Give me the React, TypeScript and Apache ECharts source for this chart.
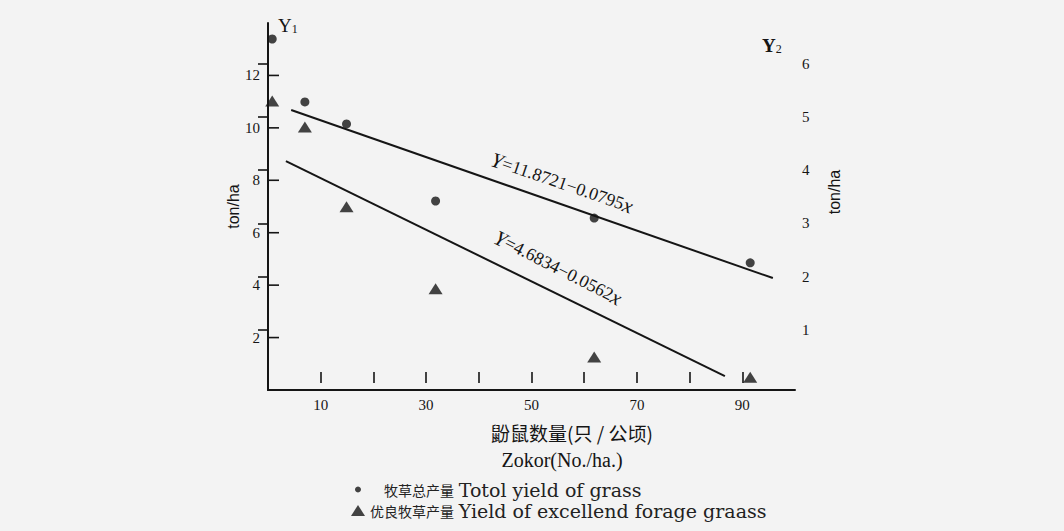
import React, { useEffect, useRef } from "react";
import * as echarts from "echarts";

// Zokor density (No./ha) for the six plots
const zokorDensity = [0.8, 7.0, 14.9, 31.8, 61.9, 91.5];
// Total yield of grass (Y1, ton/ha)
const totalYield = [13.39, 10.99, 10.15, 7.21, 6.56, 4.85];
// Yield of excellent forage grass (Y2, ton/ha)
const forageYield = [5.3, 4.81, 3.31, 1.77, 0.49, 0.11];
// Drawn regression lines (end points)
const totalFitX = [4.4, 95.8];
const totalFitY = [10.68, 4.27];
const forageFitX = [3.4, 86.7];
const forageFitY = [4.17, 0.13];

const xTicks = [10, 20, 30, 40, 50, 60, 70, 80, 90];
const xLabels = [10, 30, 50, 70, 90];
const y1Ticks = [2, 4, 6, 8, 10, 12];
const y2Ticks = [1, 2, 3, 4, 5, 6];

const nameTotal = "牧草总产量 Totol yield of grass";
const nameForage = "优良牧草产量 Yield of excellend forage graass";

const SERIF = "'Liberation Serif', 'DejaVu Serif', 'Noto Sans CJK SC', serif";
const WIDE_SERIF = "'DejaVu Serif', 'Liberation Serif', serif";
const SANS = "'Liberation Sans', 'DejaVu Sans', sans-serif";
const CJK = "'Noto Sans CJK SC', sans-serif";
const INK = "#151515";

// plot frame (pixels)
const PLOT_TOP = 23;
const PLOT_TOP_RIGHT = 45;
const PLOT_BOTTOM = 390;
const Y1_MAX = 14;
const TICK_LEN = 11;

const legendRich = {
  c: { fontFamily: CJK, fontSize: 14, color: "#222" },
  e: { fontFamily: WIDE_SERIF, fontSize: 19, color: "#222" },
};
const legendFormatter = (name: string) => {
  const i = name.indexOf(" ");
  return `{c|${name.slice(0, i)}} {e|${name.slice(i + 1)}}`;
};

export default function App() {
  const ref = useRef<HTMLDivElement>(null);

  useEffect(() => {
    if (!ref.current) return;
    const chart = echarts.init(ref.current, undefined, { renderer: "svg" });

    const zip = (xs: number[], ys: number[]) => xs.map((x, i) => [x, ys[i]]);
    const axisLine = (w: number) => ({ show: true, lineStyle: { color: INK, width: w } });
    const labelStyle = { fontSize: 15, fontFamily: SERIF, color: INK };
    // tick-only companion axes (labels hidden, ticks at the given values)
    const tickOnly = (values: number[], len: number) => ({
      axisLine: { show: false },
      axisLabel: { show: false },
      splitLine: { show: false },
      axisTick: {
        show: true,
        inside: true,
        length: len,
        customValues: values,
        lineStyle: { color: INK, width: 1.6 },
      },
    });

    chart.setOption({
      animation: false,
      backgroundColor: "#f3f3f3",
      grid: [
        { left: 268, right: 269, top: PLOT_TOP, bottom: 531 - PLOT_BOTTOM },
        { left: 268, right: 269, top: PLOT_TOP_RIGHT, bottom: 531 - PLOT_BOTTOM },
      ],
      xAxis: [
        {
          gridIndex: 0,
          type: "value",
          min: 0,
          max: 100,
          axisLine: axisLine(2),
          axisTick: { show: false },
          axisLabel: { ...labelStyle, margin: 7, customValues: xLabels },
          splitLine: { show: false },
        },
        {
          gridIndex: 1,
          type: "value",
          min: 0,
          max: 100,
          show: false,
          splitLine: { show: false },
        },
        {
          gridIndex: 1,
          type: "value",
          position: "bottom",
          min: 0,
          max: 100,
          ...tickOnly(xTicks, TICK_LEN),
        },
      ],
      yAxis: [
        {
          gridIndex: 0,
          type: "value",
          position: "left",
          min: 0,
          max: Y1_MAX,
          axisLine: axisLine(2),
          axisTick: { show: false },
          axisLabel: { ...labelStyle, margin: 8, customValues: y1Ticks },
          splitLine: { show: false },
          name: "ton/ha",
          nameLocation: "middle",
          nameRotate: 90,
          nameGap: 27,
          nameTextStyle: { fontFamily: SANS, fontSize: 16, color: INK },
        },
        {
          gridIndex: 1,
          type: "value",
          position: "right",
          min: -0.13,
          max: 6.35,
          axisLine: axisLine(1.6),
          axisTick: { show: false },
          axisLabel: { ...labelStyle, margin: 7, customValues: y2Ticks },
          splitLine: { show: false },
        },
        {
          gridIndex: 1,
          type: "value",
          position: "right",
          min: -0.13,
          max: 6.35,
          ...tickOnly(y2Ticks, 10),
        },
      ],
      legend: [
        {
          data: [{ name: nameTotal, icon: "circle" }],
          selectedMode: false,
          orient: "vertical",
          left: 350,
          top: 475,
          itemWidth: 42,
          itemHeight: 6,
          formatter: legendFormatter,
          textStyle: { fontFamily: SERIF, fontSize: 19, color: "#222", rich: legendRich },
        },
        {
          data: [{ name: nameForage, icon: "triangle" }],
          selectedMode: false,
          orient: "vertical",
          left: 346,
          top: 496,
          itemWidth: 14,
          itemHeight: 11,
          formatter: legendFormatter,
          textStyle: { fontFamily: SERIF, fontSize: 19, color: "#222", rich: legendRich },
        },
      ],
      series: [
        {
          name: nameTotal,
          type: "scatter",
          xAxisIndex: 0,
          yAxisIndex: 0,
          symbol: "circle",
          symbolSize: 9,
          itemStyle: { color: INK },
          data: zip(zokorDensity, totalYield),
          z: 5,
        },
        {
          name: nameForage,
          type: "scatter",
          xAxisIndex: 1,
          yAxisIndex: 1,
          symbol: "triangle",
          symbolSize: [14, 11],
          itemStyle: { color: INK },
          data: zip(zokorDensity, forageYield),
          z: 5,
        },
        {
          name: "fit-total",
          type: "line",
          xAxisIndex: 0,
          yAxisIndex: 0,
          symbol: "none",
          lineStyle: { color: INK, width: 2 },
          data: zip(totalFitX, totalFitY),
        },
        {
          name: "fit-forage",
          type: "line",
          xAxisIndex: 1,
          yAxisIndex: 1,
          symbol: "none",
          lineStyle: { color: INK, width: 2 },
          data: zip(forageFitX, forageFitY),
        },
        {
          // Y1 tick marks, placed through the left axis scale
          name: "y1-ticks",
          type: "custom",
          xAxisIndex: 0,
          yAxisIndex: 0,
          silent: true,
          z: 10,
          data: y1Ticks.map((v) => [0, v]),
          renderItem: (_params: any, api: any) => {
            const p = api.coord([0, api.value(1)]);
            return {
              type: "line",
              shape: { x1: p[0], y1: p[1], x2: p[0] + TICK_LEN, y2: p[1] },
              style: { stroke: INK, lineWidth: 1.6 },
            };
          },
        },
      ],
      graphic: [
        {
          type: "text",
          x: 278,
          y: 25,
          style: {
            text: "{a|Y}{b|1}",
            verticalAlign: "middle",
            rich: {
              a: { fontFamily: SERIF, fontSize: 19, fill: INK },
              b: { fontFamily: SERIF, fontSize: 12, fill: INK, padding: [8, 0, 0, 0] },
            },
          },
        },
        {
          type: "text",
          x: 762,
          y: 45,
          style: {
            text: "{a|Y}{b|2}",
            verticalAlign: "middle",
            rich: {
              a: { fontFamily: SERIF, fontSize: 19, fontWeight: "bold", fill: INK },
              b: { fontFamily: SERIF, fontSize: 12, fill: INK, padding: [8, 0, 0, 0] },
            },
          },
        },
        {
          type: "text",
          x: 834,
          y: 192,
          rotation: Math.PI / 2,
          style: {
            text: "ton/ha",
            align: "center",
            verticalAlign: "middle",
            fontFamily: SANS,
            fontSize: 16,
            fill: INK,
          },
        },
        {
          type: "text",
          x: 572,
          y: 432,
          style: {
            text: "鼢鼠数量(只 / 公顷)",
            align: "center",
            verticalAlign: "middle",
            fontFamily: CJK,
            fontSize: 19,
            fill: INK,
          },
        },
        {
          type: "text",
          x: 562,
          y: 460,
          style: {
            text: "Zokor(No./ha.)",
            align: "center",
            verticalAlign: "middle",
            fontFamily: SERIF,
            fontSize: 20,
            fill: INK,
          },
        },
        {
          type: "text",
          x: 562,
          y: 183,
          rotation: -0.33,
          style: {
            text: "{i|Y}{n|=11.8721−0.0795}{i|x}",
            align: "center",
            verticalAlign: "middle",
            rich: {
              i: { fontFamily: SERIF, fontStyle: "italic", fontSize: 21, fill: INK },
              n: { fontFamily: SERIF, fontSize: 18, fill: INK },
            },
          },
        },
        {
          type: "text",
          x: 558,
          y: 268,
          rotation: -0.47,
          style: {
            text: "{i|Y}{n|=4.6834−0.0562}{i|x}",
            align: "center",
            verticalAlign: "middle",
            rich: {
              i: { fontFamily: SERIF, fontStyle: "italic", fontSize: 21, fill: INK },
              n: { fontFamily: SERIF, fontSize: 18, fill: INK },
            },
          },
        },
      ],
    });

    return () => chart.dispose();
  }, []);

  return (
    <div
      ref={ref}
      style={{ position: "fixed", left: 0, top: 0, width: 1064, height: 531 }}
    />
  );
}
